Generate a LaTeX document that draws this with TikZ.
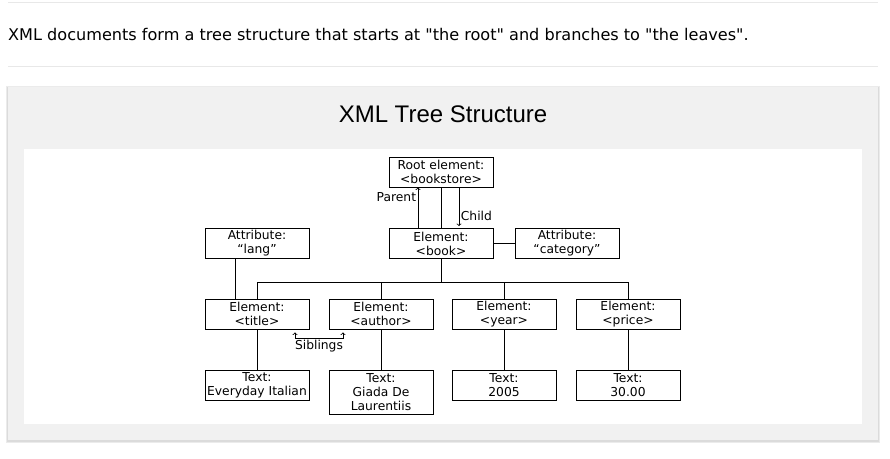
\documentclass[tikz,border=0pt]{standalone}
\usepackage{fontspec}
\setmainfont{DejaVu Sans}
\newfontfamily\titlefont{Liberation Sans}
\usetikzlibrary{calc}
\definecolor{rulegray}{HTML}{E8E8E8}
\definecolor{panelgray}{HTML}{F1F1F1}
\tikzstyle{elem} = [draw=black, line width=0.8pt, fill=white, minimum width=104pt, minimum height=30pt, inner sep=0pt, align=center, font={\fontsize{12.3}{14}\selectfont}]
\tikzstyle{tall} = [minimum height=44pt]
\tikzstyle{link} = [line width=0.8pt]
\tikzstyle{lbl} = [font={\fontsize{12.3}{14}\selectfont}, inner sep=1.5pt]

\begin{document}
\begin{tikzpicture}[x=1pt,y=-1pt]
  \useasboundingbox (0,0) rectangle (890,458);
  % page
  \draw[rulegray, line width=1pt] (8,2) -- (878,2);
  \node[anchor=west, inner sep=0pt, font={\fontsize{16.1}{19}\selectfont}](intro) at (8,34){XML documents form a tree structure that starts at \textquotedbl the root\textquotedbl{} and branches to \textquotedbl the leaves\textquotedbl.};
  \draw[rulegray, line width=1pt] (8,66) -- (878,66);
  \fill[black!8] (6,86) rectangle (880,443);
  \fill[black!14] (7,87) rectangle (879,442);
  \fill[panelgray] (8,87) rectangle (878,440);
  \node[font={\titlefont\fontsize{24}{28}\selectfont}](head) at (443,114){XML Tree Structure};
  \fill[white] (24,149) rectangle (862,424);
  % tree
  \node[elem](root) at (441,172){Root element:\\<bookstore>};
  \node[elem](book) at (441,243.5){Element:\\<book>};
  \node[elem](lang) at (257,243.5){Attribute:\\“lang”};
  \node[elem](cat) at (567,243.5){Attribute:\\“category”};
  \node[elem](title) at (257,314){Element:\\<title>};
  \node[elem](author) at (381,314){Element:\\<author>};
  \node[elem](year) at (504,314){Element:\\<year>};
  \node[elem](price) at (628,314){Element:\\<price>};
  \node[elem](ttitle) at (257,385){Text:\\Everyday Italian};
  \node[elem,tall](tauthor) at (381,392){Text:\\Giada De\\Laurentiis};
  \node[elem](tyear) at (504,385){Text:\\2005};
  \node[elem](tprice) at (628,385){Text:\\30.00};
  \coordinate (bus) at ($(book.south)+(0,23)$);
  \draw[link](root)--(book);
  \draw[link](book)--(cat);
  \draw[link](lang.south -| 235,0)--(title.north -| 235,0);
  \draw[link](book.south)--(bus);
  \draw[link](title.north)|-(bus);
  \draw[link](author.north)|-(bus);
  \draw[link](year.north)|-(bus);
  \draw[link](price.north)|-(bus);
  \draw[link](title)--(ttitle);
  \draw[link](author)--(tauthor);
  \draw[link](year)--(tyear);
  \draw[link](price)--(tprice);
  \draw[link,->]([xshift=-23pt]book.north)--([xshift=-23pt]book.north |- root.south) node[pos=0.75,left,lbl]{Parent};
  \draw[link,->,shorten >=2pt]([xshift=18pt]root.south)--([xshift=18pt]root.south |- book.north) node[pos=0.7,right,lbl]{Child};
  \coordinate (sibA) at ($(title.south)+(38,3)$);
  \coordinate (sibB) at ($(author.south)+(-38,3)$);
  \draw[link,<->](sibA)--++(0,6)-|(sibB);
  \node[lbl,below](sib) at ($(sibA)!0.5!(sibB)+(0,6)$){Siblings};
\end{tikzpicture}
\end{document}
